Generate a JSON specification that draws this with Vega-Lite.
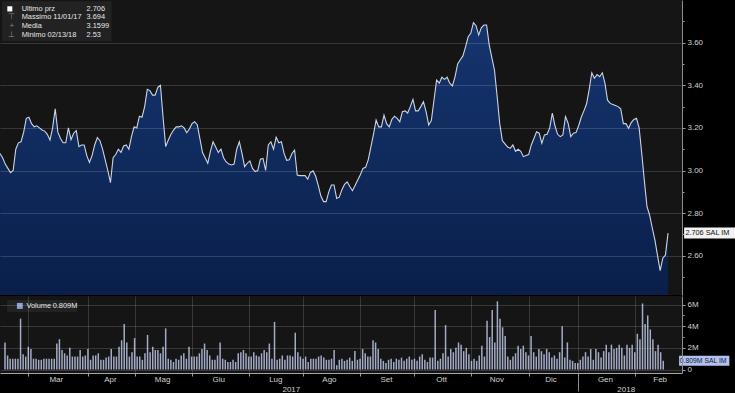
{
"$schema": "https://vega.github.io/schema/vega-lite/v6.json",
"padding": 0,
"background": "#000000",
"datasets": {
"px": [
{"d":0,"p":3.08,"v":2.5},{"d":1,"p":3.06,"v":1.3},{"d":2,"p":3.03,"v":1.0},{"d":3,"p":3.01,"v":1.0},{"d":4,"p":2.99,"v":1.0},{"d":5,"p":3.00,"v":1.0},{"d":6,"p":3.10,"v":4.7},{"d":7,"p":3.13,"v":1.4},{"d":8,"p":3.135,"v":1.2},{"d":9,"p":3.18,"v":2.1},
{"d":10,"p":3.245,"v":1.9},{"d":11,"p":3.25,"v":1.0},{"d":12,"p":3.22,"v":1.0},{"d":13,"p":3.205,"v":0.9},{"d":14,"p":3.21,"v":0.9},{"d":15,"p":3.20,"v":1.0},{"d":16,"p":3.19,"v":1.0},{"d":17,"p":3.185,"v":1.0},{"d":18,"p":3.17,"v":1.0},{"d":19,"p":3.143,"v":1.0},
{"d":20,"p":3.20,"v":2.4},{"d":21,"p":3.29,"v":2.8},{"d":22,"p":3.18,"v":1.8},{"d":23,"p":3.15,"v":1.5},{"d":24,"p":3.13,"v":1.3},{"d":25,"p":3.13,"v":2.0},{"d":26,"p":3.20,"v":1.2},{"d":27,"p":3.145,"v":1.2},{"d":28,"p":3.175,"v":1.2},{"d":29,"p":3.187,"v":1.8},
{"d":30,"p":3.112,"v":1.2},{"d":31,"p":3.12,"v":1.3},{"d":32,"p":3.12,"v":1.9},{"d":33,"p":3.07,"v":0.9},{"d":34,"p":3.038,"v":1.3},{"d":35,"p":3.07,"v":1.3},{"d":36,"p":3.12,"v":1.5},{"d":37,"p":3.155,"v":0.9},{"d":38,"p":3.14,"v":0.9},{"d":39,"p":3.10,"v":1.1},
{"d":40,"p":3.05,"v":1.2},{"d":41,"p":3.00,"v":1.9},{"d":42,"p":2.943,"v":1.2},{"d":43,"p":3.06,"v":1.2},{"d":44,"p":3.075,"v":2.1},{"d":45,"p":3.10,"v":2.7},{"d":46,"p":3.085,"v":4.2},{"d":47,"p":3.115,"v":2.5},{"d":48,"p":3.12,"v":1.2},{"d":49,"p":3.10,"v":1.6},
{"d":50,"p":3.16,"v":2.9},{"d":51,"p":3.205,"v":1.2},{"d":52,"p":3.20,"v":1.2},{"d":53,"p":3.255,"v":0.9},{"d":54,"p":3.25,"v":1.5},{"d":55,"p":3.30,"v":3.2},{"d":56,"p":3.381,"v":1.6},{"d":57,"p":3.375,"v":2.1},{"d":58,"p":3.354,"v":1.8},{"d":59,"p":3.354,"v":1.8},
{"d":60,"p":3.39,"v":1.5},{"d":61,"p":3.40,"v":2.1},{"d":62,"p":3.25,"v":3.8},{"d":63,"p":3.112,"v":1.0},{"d":64,"p":3.143,"v":0.9},{"d":65,"p":3.17,"v":0.7},{"d":66,"p":3.19,"v":1.0},{"d":67,"p":3.205,"v":0.9},{"d":68,"p":3.205,"v":1.3},{"d":69,"p":3.21,"v":1.5},
{"d":70,"p":3.20,"v":1.0},{"d":71,"p":3.177,"v":2.1},{"d":72,"p":3.195,"v":1.2},{"d":73,"p":3.22,"v":1.2},{"d":74,"p":3.229,"v":1.2},{"d":75,"p":3.215,"v":1.5},{"d":76,"p":3.15,"v":1.9},{"d":77,"p":3.084,"v":2.4},{"d":78,"p":3.06,"v":1.8},{"d":79,"p":3.034,"v":1.3},
{"d":80,"p":3.09,"v":0.9},{"d":81,"p":3.135,"v":0.9},{"d":82,"p":3.11,"v":1.3},{"d":83,"p":3.085,"v":2.5},{"d":84,"p":3.10,"v":1.0},{"d":85,"p":3.06,"v":0.9},{"d":86,"p":3.04,"v":0.7},{"d":87,"p":3.03,"v":0.7},{"d":88,"p":3.026,"v":0.9},{"d":89,"p":3.03,"v":0.7},
{"d":90,"p":3.10,"v":1.5},{"d":91,"p":3.135,"v":1.6},{"d":92,"p":3.08,"v":1.8},{"d":93,"p":3.018,"v":1.5},{"d":94,"p":3.034,"v":1.2},{"d":95,"p":3.045,"v":1.2},{"d":96,"p":3.01,"v":1.6},{"d":97,"p":2.995,"v":1.3},{"d":98,"p":3.00,"v":1.2},{"d":99,"p":3.053,"v":1.5},
{"d":100,"p":3.057,"v":1.8},{"d":101,"p":3.00,"v":1.6},{"d":102,"p":3.12,"v":2.4},{"d":103,"p":3.135,"v":1.0},{"d":104,"p":3.10,"v":4.4},{"d":105,"p":3.156,"v":0.9},{"d":106,"p":3.13,"v":1.0},{"d":107,"p":3.135,"v":1.3},{"d":108,"p":3.08,"v":0.9},{"d":109,"p":3.048,"v":1.3},
{"d":110,"p":3.05,"v":1.3},{"d":111,"p":3.08,"v":1.2},{"d":112,"p":3.096,"v":3.4},{"d":113,"p":2.979,"v":1.6},{"d":114,"p":2.976,"v":1.2},{"d":115,"p":2.976,"v":1.0},{"d":116,"p":2.976,"v":1.2},{"d":117,"p":2.959,"v":0.7},{"d":118,"p":2.99,"v":1.0},{"d":119,"p":2.999,"v":1.0},
{"d":120,"p":2.974,"v":1.0},{"d":121,"p":2.93,"v":1.2},{"d":122,"p":2.88,"v":1.3},{"d":123,"p":2.854,"v":1.1},{"d":124,"p":2.854,"v":0.9},{"d":125,"p":2.90,"v":0.9},{"d":126,"p":2.932,"v":1.0},{"d":127,"p":2.932,"v":1.8},{"d":128,"p":2.869,"v":0.4},{"d":129,"p":2.875,"v":0.9},
{"d":130,"p":2.91,"v":1.0},{"d":131,"p":2.935,"v":0.8},{"d":132,"p":2.947,"v":0.9},{"d":133,"p":2.925,"v":1.1},{"d":134,"p":2.905,"v":0.8},{"d":135,"p":2.93,"v":1.7},{"d":136,"p":2.955,"v":0.9},{"d":137,"p":2.98,"v":1.0},{"d":138,"p":3.01,"v":1.9},{"d":139,"p":3.015,"v":1.5},
{"d":140,"p":3.05,"v":1.2},{"d":141,"p":3.11,"v":1.2},{"d":142,"p":3.17,"v":2.7},{"d":143,"p":3.237,"v":2.5},{"d":144,"p":3.205,"v":1.9},{"d":145,"p":3.205,"v":1.0},{"d":146,"p":3.26,"v":0.8},{"d":147,"p":3.22,"v":0.6},{"d":148,"p":3.205,"v":0.9},{"d":149,"p":3.24,"v":1.0},
{"d":150,"p":3.255,"v":0.7},{"d":151,"p":3.245,"v":1.0},{"d":152,"p":3.229,"v":0.9},{"d":153,"p":3.276,"v":1.1},{"d":154,"p":3.28,"v":0.8},{"d":155,"p":3.27,"v":1.0},{"d":156,"p":3.30,"v":1.2},{"d":157,"p":3.334,"v":0.9},{"d":158,"p":3.28,"v":1.0},{"d":159,"p":3.28,"v":0.8},
{"d":160,"p":3.30,"v":1.2},{"d":161,"p":3.323,"v":1.4},{"d":162,"p":3.276,"v":0.9},{"d":163,"p":3.214,"v":0.7},{"d":164,"p":3.235,"v":1.1},{"d":165,"p":3.33,"v":1.1},{"d":166,"p":3.425,"v":5.5},{"d":167,"p":3.41,"v":0.8},{"d":168,"p":3.438,"v":1.0},{"d":169,"p":3.428,"v":1.5},
{"d":170,"p":3.438,"v":4.1},{"d":171,"p":3.41,"v":1.2},{"d":172,"p":3.397,"v":1.9},{"d":173,"p":3.44,"v":1.6},{"d":174,"p":3.50,"v":2.0},{"d":175,"p":3.52,"v":2.5},{"d":176,"p":3.538,"v":2.3},{"d":177,"p":3.58,"v":1.7},{"d":178,"p":3.628,"v":2.0},{"d":179,"p":3.644,"v":1.4},
{"d":180,"p":3.694,"v":0.8},{"d":181,"p":3.68,"v":1.0},{"d":182,"p":3.636,"v":0.8},{"d":183,"p":3.67,"v":1.3},{"d":184,"p":3.683,"v":2.2},{"d":185,"p":3.683,"v":1.2},{"d":186,"p":3.59,"v":4.5},{"d":187,"p":3.53,"v":3.0},{"d":188,"p":3.472,"v":5.5},{"d":189,"p":3.35,"v":2.5},
{"d":190,"p":3.22,"v":6.3},{"d":191,"p":3.14,"v":4.7},{"d":192,"p":3.125,"v":3.9},{"d":193,"p":3.11,"v":3.1},{"d":194,"p":3.104,"v":1.2},{"d":195,"p":3.12,"v":0.9},{"d":196,"p":3.09,"v":1.2},{"d":197,"p":3.10,"v":1.5},{"d":198,"p":3.09,"v":2.2},{"d":199,"p":3.065,"v":1.9},
{"d":200,"p":3.07,"v":2.2},{"d":201,"p":3.075,"v":1.6},{"d":202,"p":3.12,"v":1.3},{"d":203,"p":3.15,"v":3.1},{"d":204,"p":3.182,"v":1.6},{"d":205,"p":3.175,"v":1.2},{"d":206,"p":3.128,"v":1.9},{"d":207,"p":3.167,"v":1.7},{"d":208,"p":3.17,"v":1.4},{"d":209,"p":3.20,"v":1.9},
{"d":210,"p":3.269,"v":1.6},{"d":211,"p":3.21,"v":1.1},{"d":212,"p":3.17,"v":1.3},{"d":213,"p":3.159,"v":1.0},{"d":214,"p":3.167,"v":1.6},{"d":215,"p":3.253,"v":4.0},{"d":216,"p":3.222,"v":1.1},{"d":217,"p":3.159,"v":2.5},{"d":218,"p":3.175,"v":0.9},{"d":219,"p":3.178,"v":0.8},
{"d":220,"p":3.21,"v":0.6},{"d":221,"p":3.25,"v":0.6},{"d":222,"p":3.28,"v":0.9},{"d":223,"p":3.312,"v":1.2},{"d":224,"p":3.38,"v":1.6},{"d":225,"p":3.459,"v":1.2},{"d":226,"p":3.433,"v":1.9},{"d":227,"p":3.45,"v":0.9},{"d":228,"p":3.44,"v":1.9},{"d":229,"p":3.459,"v":1.6},
{"d":230,"p":3.41,"v":1.1},{"d":231,"p":3.33,"v":1.7},{"d":232,"p":3.315,"v":2.3},{"d":233,"p":3.31,"v":1.6},{"d":234,"p":3.305,"v":2.3},{"d":235,"p":3.30,"v":1.9},{"d":236,"p":3.29,"v":2.0},{"d":237,"p":3.22,"v":2.3},{"d":238,"p":3.22,"v":2.0},{"d":239,"p":3.198,"v":1.3},
{"d":240,"p":3.225,"v":2.3},{"d":241,"p":3.24,"v":2.0},{"d":242,"p":3.245,"v":2.3},{"d":243,"p":3.20,"v":1.6},{"d":244,"p":3.08,"v":3.3},{"d":245,"p":2.95,"v":2.8},{"d":246,"p":2.83,"v":6.1},{"d":247,"p":2.79,"v":4.2},{"d":248,"p":2.73,"v":5.0},{"d":249,"p":2.674,"v":3.7},
{"d":250,"p":2.60,"v":2.8},{"d":251,"p":2.53,"v":1.7},{"d":252,"p":2.588,"v":2.3},{"d":253,"p":2.603,"v":1.6},{"d":254,"p":2.706,"v":0.809}
],
"legend": [
{"k":1,"label":"Ultimo prz","value":"2.706","icon":""},
{"k":2,"label":"Massimo 11/01/17","value":"3.694","icon":"⊤"},
{"k":3,"label":"Media","value":"3.1599","icon":"+"},
{"k":4,"label":"Minimo 02/13/18","value":"2.53","icon":"⊥"}
]
},
"data": {"name": "px"},
"spacing": 1,
"vconcat": [
{
"width": 682,
"height": 295,
"layer": [
{
"layer": [
{
"mark": {"type": "area", "clip": true, "color": {"gradient": "linear", "x1": 0, "y1": 0, "x2": 0, "y2": 1, "stops": [{"offset": 0, "color": "#15356f"}, {"offset": 1, "color": "#0a1f4a"}]}},
"encoding": {
"x": {"field": "d", "type": "quantitative", "scale": {"domain": [0, 259.3], "nice": false, "zero": false}, "axis": {"orient": "bottom", "values": [9,32,50,72,94,115,137,158,180,202,221,243], "grid": true, "gridColor": "#ffffff", "gridOpacity": 0.15, "ticks": false, "labels": false, "domain": true, "domainColor": "#a5a5a5", "domainWidth": 2, "title": null, "zindex": 1}},
"y": {"field": "p", "type": "quantitative", "scale": {"domain": [2.4155, 3.8005], "nice": false, "zero": false}, "axis": {"orient": "right", "values": [2.6,2.8,3.0,3.2,3.4,3.6], "format": ".2f", "grid": true, "gridColor": "#ffffff", "gridOpacity": 0.15, "tickSize": 3, "labelPadding": 2, "title": null, "zindex": 1}},
"y2": {"datum": 2.4155}
}
},
{
"mark": {"type": "line", "clip": true, "color": "#cdd4e2", "strokeWidth": 1.1},
"encoding": {
"x": {"field": "d", "type": "quantitative", "axis": null},
"y": {"field": "p", "type": "quantitative", "axis": {"orient": "right", "values": [2.5,2.7,2.9,3.1,3.3,3.5,3.7], "labels": false, "grid": false, "domain": false, "tickSize": 2, "title": null}}
}
},
{
"data": {"values": [{"label": "2.706 SAL IM", "p": 2.706}]},
"mark": {"type": "rect", "color": "#f2f2f2"},
"encoding": {
"x": {"datum": 260.1, "axis": null},
"x2": {"datum": 279.5},
"y": {"datum": 2.7324, "axis": null},
"y2": {"datum": 2.6807}
}
},
{
"data": {"values": [{"label": "2.706 SAL IM", "p": 2.706}]},
"mark": {"type": "text", "align": "left", "baseline": "middle", "fontSize": 7.3, "color": "#111111"},
"encoding": {
"x": {"datum": 260.6, "axis": null},
"y": {"field": "p", "type": "quantitative", "axis": null},
"text": {"field": "label"}
}
}
],
"resolve": {"axis": {"y": "independent"}}
},
{
"data": {"name": "legend"},
"layer": [
{
"transform": [{"filter": "datum.k==1"}],
"mark": {"type": "rect", "color": "#222222"},
"encoding": {
"x": {"datum": 0.8, "axis": null},
"x2": {"datum": 42.4},
"y": {"datum": 0.15, "scale": {"domain": [0, 33.9], "nice": false, "zero": false, "reverse": true}, "axis": null},
"y2": {"datum": 4.75}
}
},
{
"transform": [{"filter": "datum.k==1"}],
"mark": {"type": "rect", "color": "#ffffff"},
"encoding": {
"x": {"datum": 2.78, "axis": null},
"x2": {"datum": 4.68},
"y": {"datum": 0.72, "axis": null},
"y2": {"datum": 1.32}
}
},
{
"mark": {"type": "text", "align": "center", "baseline": "middle", "fontSize": 8, "color": "#8c8c8c"},
"encoding": {
"x": {"datum": 4.45, "axis": null},
"y": {"field": "k", "type": "quantitative", "axis": null},
"text": {"field": "icon"}
}
},
{
"mark": {"type": "text", "align": "left", "baseline": "middle", "fontSize": 7.4, "color": "#e6e6e6"},
"encoding": {
"x": {"datum": 8.25, "axis": null},
"y": {"field": "k", "type": "quantitative", "axis": null},
"text": {"field": "label"}
}
},
{
"mark": {"type": "text", "align": "left", "baseline": "middle", "fontSize": 7.4, "color": "#e6e6e6"},
"encoding": {
"x": {"datum": 32.9, "axis": null},
"y": {"field": "k", "type": "quantitative", "axis": null},
"text": {"field": "value"}
}
}
]
}
],
"resolve": {"scale": {"y": "independent"}}
},
{
"width": 682,
"height": 77,
"layer": [
{
"mark": {"type": "bar", "size": 1.5, "color": "#a2acc6", "clip": true},
"encoding": {
"x": {"field": "d", "type": "quantitative", "scale": {"domain": [0, 259.3], "nice": false, "zero": false}, "axis": {"orient": "bottom", "values": [9,32,50,72,94,115,137,158,180,202,221,243], "grid": true, "gridColor": "#ffffff", "gridOpacity": 0.15, "ticks": true, "tickSize": 3, "labels": false, "domain": true, "domainColor": "#a5a5a5", "title": null, "zindex": 1}},
"y": {"field": "v", "type": "quantitative", "scale": {"domain": [-0.32, 6.79], "nice": false, "zero": false}, "axis": {"orient": "right", "values": [0,2,4,6], "labelExpr": "datum.value==0?'0':datum.value+'M'", "grid": true, "gridColor": "#ffffff", "gridOpacity": 0.15, "tickSize": 3, "labelPadding": 2, "title": null, "zindex": 1}},
"y2": {"datum": 0}
}
},
{
"mark": {"type": "point", "opacity": 0, "clip": true},
"encoding": {
"x": {"field": "d", "type": "quantitative", "axis": {"orient": "bottom", "values": [19.6,40.5,60.6,82.3,104.3,125,147,168.3,189.6,210.5,231.5,252.6], "labelExpr": "datum.value<30?'Mar':datum.value<50?'Apr':datum.value<71?'Mag':datum.value<93?'Giu':datum.value<114?'Lug':datum.value<136?'Ago':datum.value<157?'Set':datum.value<179?'Ott':datum.value<200?'Nov':datum.value<220?'Dic':datum.value<242?'Gen':'Feb'", "ticks": false, "tickSize": 0, "grid": false, "domain": false, "labelPadding": 2, "title": null}},
"y": {"field": "v", "type": "quantitative", "axis": {"orient": "right", "values": [1,3,5], "labels": false, "grid": false, "domain": false, "tickSize": 2, "title": null}}
}
},
{
"mark": {"type": "point", "opacity": 0, "clip": true},
"encoding": {
"x": {"field": "d", "type": "quantitative", "axis": {"orient": "bottom", "values": [110.3, 239.5], "labelExpr": "datum.value<200?'2017':'2018'", "ticks": false, "tickSize": 0, "grid": false, "domain": false, "labelPadding": 12, "title": null}},
"y": {"field": "v", "type": "quantitative", "axis": null}
}
},
{
"mark": {"type": "point", "opacity": 0, "clip": true},
"encoding": {
"x": {"field": "d", "type": "quantitative", "axis": {"orient": "bottom", "values": [221], "labels": false, "ticks": true, "tickSize": 18, "tickColor": "#8a8a8a", "grid": false, "domain": false, "title": null}},
"y": {"field": "v", "type": "quantitative", "axis": null}
}
},
{
"data": {"values": [{"label": "0.809M SAL IM", "v": 0.809}]},
"mark": {"type": "rect", "color": "#b3c1ec"},
"encoding": {
"x": {"datum": 260.1, "axis": null},
"x2": {"datum": 279.5},
"y": {"datum": 1.27, "axis": null},
"y2": {"datum": 0.35}
}
},
{
"data": {"values": [{"label": "0.809M SAL IM", "v": 0.809}]},
"mark": {"type": "text", "align": "left", "baseline": "middle", "fontSize": 6.8, "color": "#0b1a3a"},
"encoding": {
"x": {"datum": 260.4, "axis": null},
"y": {"field": "v", "type": "quantitative", "axis": null},
"text": {"field": "label"}
}
},
{
"data": {"values": [{"label": "Volume", "value": "0.809M"}]},
"mark": {"type": "rect", "color": "#222222"},
"encoding": {
"x": {"datum": 0.8, "axis": null},
"x2": {"datum": 27.8},
"y": {"datum": 6.42, "axis": null},
"y2": {"datum": 5.31}
}
},
{
"data": {"values": [{"label": "Volume", "value": "0.809M"}]},
"mark": {"type": "rect", "color": "#8ea0d0"},
"encoding": {
"x": {"datum": 4.6, "axis": null},
"x2": {"datum": 6.85},
"y": {"datum": 6.15, "axis": null},
"y2": {"datum": 5.6}
}
},
{
"data": {"values": [{"label": "Volume", "value": "0.809M"}]},
"mark": {"type": "text", "align": "left", "baseline": "middle", "fontSize": 7.4, "color": "#e6e6e6"},
"encoding": {
"x": {"datum": 8.25, "axis": null},
"y": {"datum": 5.86, "axis": null},
"text": {"field": "label"}
}
},
{
"data": {"values": [{"label": "Volume", "value": "0.809M"}]},
"mark": {"type": "text", "align": "left", "baseline": "middle", "fontSize": 7.4, "color": "#e6e6e6"},
"encoding": {
"x": {"datum": 18.4, "axis": null},
"y": {"datum": 5.86, "axis": null},
"text": {"field": "value"}
}
}
],
"resolve": {"axis": {"x": "independent", "y": "independent"}}
}
],
"config": {
"view": {"stroke": null, "fill": "#151515"},
"axis": {"labelFont": "Liberation Sans", "labelFontSize": 8, "labelColor": "#d0d0d0", "tickColor": "#9a9a9a", "domainColor": "#8c8c8c"},
"text": {"font": "Liberation Sans"},
"concat": {"spacing": 1}
}
}
